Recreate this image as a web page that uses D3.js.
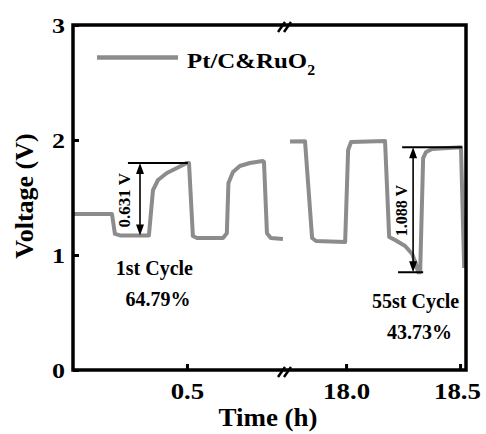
<!DOCTYPE html>
<html>
<head>
<meta charset="utf-8">
<script src="https://cdn.jsdelivr.net/npm/d3@7"></script>
<style>
  html, body { margin: 0; padding: 0; background: #fff; }
  svg { display: block; }
  text { font-family: "Liberation Serif", "Times New Roman", serif; font-weight: bold; fill: #000; }
</style>
</head>
<body>
<svg id="chart" width="486" height="434"></svg>
<script>
// Galvanostatic charge/discharge voltage of the Pt/C&RuO2 cell (hours, volts)
const earlyTime = [0, 0.171, 0.184, 0.206, 0.333, 0.351, 0.373, 0.412, 0.456, 0.5, 0.509, 0.526, 0.544, 0.658, 0.675, 0.682, 0.702, 0.732, 0.776, 0.833, 0.838, 0.851, 0.868, 0.921];
const earlyVolt = [1.357, 1.357, 1.183, 1.17, 1.17, 1.565, 1.652, 1.713, 1.757, 1.801, 1.80, 1.165, 1.148, 1.148, 1.19, 1.626, 1.722, 1.774, 1.80, 1.817, 1.81, 1.19, 1.148, 1.139];
const lateTime = [17.754, 17.82, 17.851, 17.868, 17.996, 18.009, 18.022, 18.171, 18.189, 18.215, 18.259, 18.29, 18.307, 18.316, 18.325, 18.338, 18.351, 18.377, 18.447, 18.504, 18.518];
const lateVolt = [1.987, 1.99, 1.148, 1.122, 1.113, 1.913, 1.983, 1.991, 1.157, 1.13, 1.078, 1.009, 0.922, 0.85, 0.85, 1.843, 1.896, 1.922, 1.93, 1.938, 0.887];

const yTicks = [0, 1, 2, 3];
const earlyTicks = [0.5];
const lateTicks = [18.0, 18.5];
const legendLabel = "Pt/C&RuO";
const legendSub = "2";

// voltage-gap annotations: [time, low V, high V]
const firstGap = { t: 0.294, lo: 1.17, hi: 1.801, label: "0.631 V", lineFrom: 0.241, lineTo: 0.504 };
const lastGap = { t: 18.294, lo: 0.85, hi: 1.938, label: "1.088 V", lineFrom: 18.246, lineTo: 18.509, lowFrom: 18.228, lowTo: 18.338 };
const cycleNotes = [
  { seg: "early", t: 0.357, v: 0.83, text: "1st Cycle" },
  { seg: "early", t: 0.373, v: 0.56, text: "64.79%" },
  { seg: "late", t: 18.305, v: 0.54, text: "55st Cycle" },
  { seg: "late", t: 18.322, v: 0.27, text: "43.73%" }
];

const svg = d3.select("#chart");
const plotL = 73, plotR = 466, plotT = 25, plotB = 370, breakX = 284.5;
const lineColor = "#8c8c8c";

const xEarly = d3.scaleLinear().domain([0, 0.928]).range([plotL, breakX]);
const xLate = d3.scaleLinear().domain([17.730, 18.526]).range([breakX, plotR]);
const y = d3.scaleLinear().domain([0, 3]).range([plotB, plotT]);

// curves
const mkLine = xs => d3.line().x(d => xs(d[0])).y(d => y(d[1]));
svg.append("path")
  .datum(d3.zip(earlyTime, earlyVolt))
  .attr("d", mkLine(xEarly))
  .attr("fill", "none").attr("stroke", lineColor).attr("stroke-width", 4)
  .attr("stroke-linejoin", "round");
svg.append("path")
  .datum(d3.zip(lateTime, lateVolt))
  .attr("d", mkLine(xLate))
  .attr("fill", "none").attr("stroke", lineColor).attr("stroke-width", 4)
  .attr("stroke-linejoin", "round");

// frame
svg.append("rect")
  .attr("x", plotL).attr("y", plotT)
  .attr("width", plotR - plotL).attr("height", plotB - plotT)
  .attr("fill", "none").attr("stroke", "#000").attr("stroke-width", 3.5);

// axis break marks
[plotT + 2, plotB + 2].forEach(cy => {
  [-3, 3].forEach(off => {
    const cx = breakX + off;
    svg.append("line")
      .attr("x1", cx - 3.5).attr("y1", cy + 5)
      .attr("x2", cx + 3.5).attr("y2", cy - 5)
      .attr("stroke", "#000").attr("stroke-width", 2.5);
  });
});

// y axis
const yAxis = svg.append("g").attr("transform", `translate(${plotL},0)`)
  .call(d3.axisLeft(y).tickValues(yTicks).tickSize(-6).tickFormat(d3.format("d")));
yAxis.select(".domain").remove();
yAxis.selectAll(".tick line").attr("stroke", "#000").attr("stroke-width", 3);
yAxis.selectAll(".tick text")
  .attr("x", 0).attr("dy", null)
  .attr("transform", "translate(-8,7) scale(1.18,1)")
  .attr("text-anchor", "end")
  .style("font-size", "22px");
yAxis.attr("font-family", null).attr("font-size", null);

// x axes (two segments)
function xAxisPart(scale, ticks, fmt) {
  const g = svg.append("g").attr("transform", `translate(0,${plotB})`)
    .call(d3.axisBottom(scale).tickValues(ticks).tickSize(-6).tickFormat(fmt));
  g.select(".domain").remove();
  g.attr("font-family", null).attr("font-size", null);
  g.selectAll(".tick line").attr("stroke", "#000").attr("stroke-width", 3);
  g.selectAll(".tick text")
    .attr("y", 0).attr("dy", null)
    .attr("transform", d => {
      const w = 54;
      const px = scale(d);
      const shift = Math.min(0, (486 - 2 - w / 2) - px);
      return `translate(${shift},29) scale(1.12,1)`;
    })
    .attr("text-anchor", "middle")
    .style("font-size", "24px");
}
xAxisPart(xEarly, earlyTicks, d3.format(".1f"));
xAxisPart(xLate, lateTicks, d3.format(".1f"));

// axis titles
svg.append("text")
  .attr("transform", "translate(268,426) scale(1.08,1)")
  .attr("text-anchor", "middle")
  .style("font-size", "25px")
  .text("Time (h)");
svg.append("text")
  .attr("transform", "translate(33,196) rotate(-90)")
  .attr("text-anchor", "middle")
  .style("font-size", "26px")
  .text("Voltage (V)");

// legend
svg.append("line")
  .attr("x1", 97).attr("x2", 178).attr("y1", 57.5).attr("y2", 57.5)
  .attr("stroke", lineColor).attr("stroke-width", 4.5);
const leg = svg.append("text")
  .attr("transform", "translate(187,68) scale(1.13,1)")
  .style("font-size", "22px");
leg.append("tspan").text(legendLabel);
leg.append("tspan").attr("dy", 7).style("font-size", "14px").text(legendSub);

// voltage-gap annotations
function arrowHead(g, x, yTip, dir) {
  const len = 11, half = 4;
  g.append("path")
    .attr("d", `M${x},${yTip} L${x - half},${yTip + dir * len} L${x + half},${yTip + dir * len} Z`)
    .attr("fill", "#000");
}
function gap(scale, a, labelX, fontSize) {
  const g = svg.append("g");
  const x = scale(a.t), y1 = y(a.hi), y2 = y(a.lo);
  g.append("line").attr("x1", scale(a.lineFrom)).attr("x2", scale(a.lineTo))
    .attr("y1", y1).attr("y2", y1).attr("stroke", "#000").attr("stroke-width", 2);
  if (a.lowFrom !== undefined) {
    g.append("line").attr("x1", scale(a.lowFrom)).attr("x2", scale(a.lowTo))
      .attr("y1", y2).attr("y2", y2).attr("stroke", "#000").attr("stroke-width", 2);
  }
  g.append("line").attr("x1", x).attr("x2", x)
    .attr("y1", y1 + 6).attr("y2", y2 - 6).attr("stroke", "#000").attr("stroke-width", 1.6);
  arrowHead(g, x, y1, 1);
  arrowHead(g, x, y2, -1);
  g.append("text")
    .attr("transform", `translate(${labelX},${(y1 + y2) / 2 + 1}) rotate(-90)`)
    .attr("text-anchor", "middle")
    .style("font-size", fontSize + "px")
    .text(a.label);
}
gap(xEarly, firstGap, 129.5, 17);
gap(xLate, lastGap, 406.5, 16);

// cycle notes
cycleNotes.forEach(n => {
  const sx = n.seg === "early" ? xEarly : xLate;
  svg.append("text")
    .attr("x", sx(n.t)).attr("y", y(n.v))
    .attr("text-anchor", "middle")
    .style("font-size", "20px")
    .text(n.text);
});
</script>
</body>
</html>
